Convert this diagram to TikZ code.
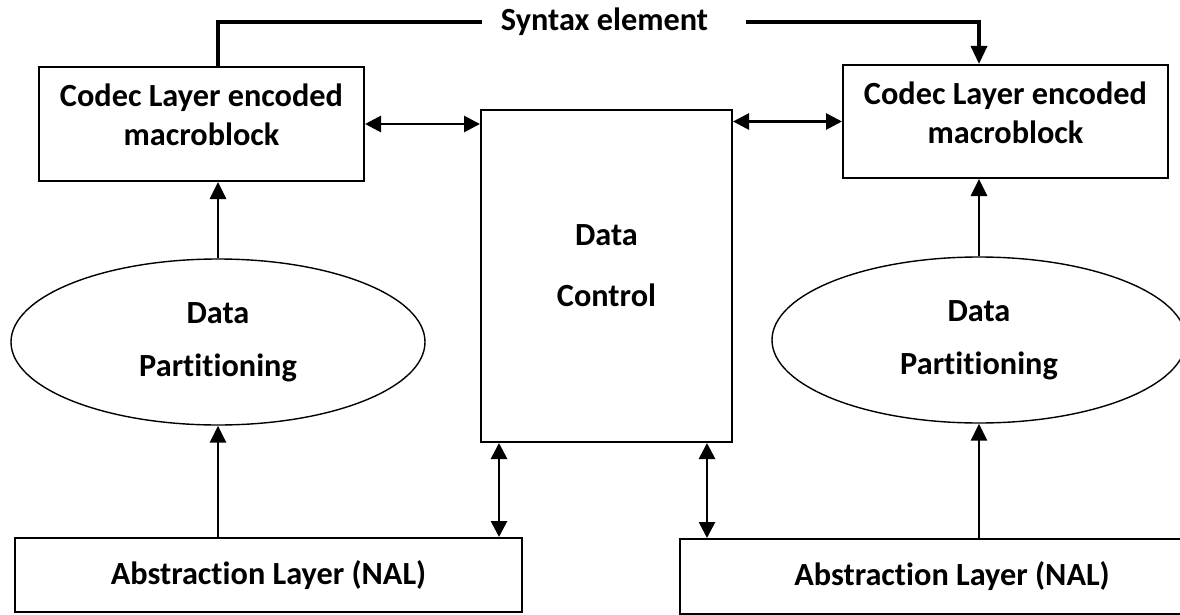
\documentclass[tikz,border=0pt]{standalone}
\usepackage{fontspec}
\setmainfont{Carlito}[Ligatures=NoCommon]
\usetikzlibrary{arrows.meta,shapes.geometric}
\tikzset{
  blok/.style={
    draw,
    line width=2pt,
    align=center,
    inner sep=0pt,
    font=\fontsize{32.3}{39}\selectfont\bfseries
  },
  oval/.style={
    ellipse,
    draw,
    line width=1.4pt,
    minimum width=414pt,
    minimum height=166pt,
    inner sep=0pt,
    align=center,
    font=\fontsize{32.3}{53}\selectfont\bfseries
  },
  arrow/.style={
    -{Triangle[length=17pt,width=16pt]},
    line width=2.8pt
  },
  dblarrow/.style={
    {Triangle[length=16pt,width=16pt]}-{Triangle[length=16pt,width=16pt]},
    line width=2.8pt
  },
  syntax/.style={
    line width=3.4pt
  }
}

\begin{document}
\begin{tikzpicture}[x=1pt,y=-1pt]
\clip (0,0) rectangle (1180,615);
% boxes
\node[blok,minimum width=325pt,minimum height=114pt,text depth=18pt] (codL) at (201.5,124) {Codec Layer encoded\\macroblock};
\node[blok,minimum width=325pt,minimum height=113pt,text depth=18pt] (codR) at (1005.5,121.5) {Codec Layer encoded\\macroblock};
\node[blok,minimum width=251pt,minimum height=332pt,text depth=20pt,font=\fontsize{32.3}{61}\selectfont\bfseries] (dc) at (606.5,276) {Data\\Control};
\node[oval] (ellL) at (218,342) {Data\\Partitioning};
\node[oval] (ellR) at (979,340) {Data\\Partitioning};
\node[blok,minimum width=507pt,minimum height=74pt] (nalL) at (268.5,575) {Abstraction Layer (NAL)};
\node[blok,minimum width=544pt,minimum height=75pt] (nalR) at (952,576.5) {Abstraction Layer (NAL)};
\node[font=\fontsize{32.3}{36}\selectfont\bfseries,inner sep=0pt] (syn) at (604.5,22) {Syntax element};
% connectors
\draw[arrow] (ellL.north) -- (codL.south -| ellL.north);
\draw[arrow] (nalL.north -| ellL.south) -- (ellL.south);
\draw[arrow] (ellR.north) -- (codR.south -| ellR.north);
\draw[arrow] (nalR.north -| ellR.south) -- (ellR.south);
\draw[dblarrow] (codL.east) -- (codL.east -| dc.west);
\draw[dblarrow] (dc.east |- codR.west) -- (codR.west);
\draw[dblarrow] ([xshift=19pt]dc.south west) -- ([xshift=19pt]dc.south west |- nalL.north);
\draw[dblarrow] ([xshift=-26pt]dc.south east) -- ([xshift=-26pt]dc.south east |- nalR.north);
\draw[syntax] (codL.north -| ellL.north) |- ([xshift=-19pt]syn.west);
\draw[syntax,-{Triangle[length=18pt,width=16pt]}] ([xshift=38pt]syn.east) -| (codR.north -| ellR.north);
\end{tikzpicture}
\end{document}
